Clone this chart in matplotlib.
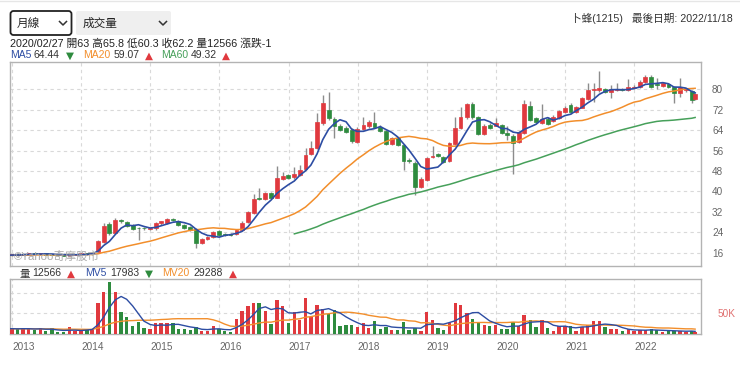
import numpy as np
import pandas as pd
import matplotlib
matplotlib.use('Agg')
import matplotlib.pyplot as plt
import matplotlib.dates as mdates
from matplotlib.patches import FancyBboxPatch

FONT = ['Liberation Sans', 'Noto Sans CJK TC', 'DejaVu Sans']
plt.rcParams['font.family'] = FONT

# ---------------- data (monthly, Feb 2012 .. Nov 2022) ----------------
open_ = [
    # 2012 Feb-Dec
    14.6, 14.8, 15.0, 15.2, 15.0, 14.6, 14.8, 15.0, 15.1, 15.0, 15.0,
    # 2013
    15.3, 15.1, 15.5, 15.8, 15.4, 15.7, 15.3, 15.2, 15.0, 14.9, 15.3, 15.5,
    # 2014
    15.6, 15.4, 16.4, 20.3, 27.1, 23.8, 28.9, 27.9, 26.9, 25.7, 25.6, 25.2,
    # 2015
    25.6, 27.5, 27.5, 29.0, 28.4, 26.9, 25.9, 25.3, 19.7, 21.4, 22.0, 24.6,
    # 2016
    23.5, 23.2, 23.3, 24.9, 27.9, 31.5, 37.4, 36.9, 39.3, 37.6, 44.8, 46.5,
    # 2017
    45.5, 46.5, 48.8, 54.6, 56.9, 66.7, 71.9, 68.4, 65.8, 65.0, 64.1, 59.5,
    # 2018
    64.5, 65.8, 67.0, 65.4, 63.7, 58.5, 60.8, 58.2, 52.2, 51.0, 41.9, 44.5,
    # 2019
    53.5, 54.6, 53.6, 51.9, 58.5, 64.8, 69.1, 74.4, 69.1, 62.5, 66.0, 65.8,
    # 2020
    66.0, 63.0, 61.9, 59.5, 63.0, 73.4, 68.6, 66.9, 68.3, 67.6, 68.9, 71.0,
    # 2021
    73.8, 71.1, 72.8, 76.3, 79.9, 79.7, 80.0, 78.8, 79.8, 80.0, 79.7, 80.5,
    # 2022 Jan-Nov
    80.8, 83.0, 85.0, 82.0, 81.4, 82.2, 80.8, 78.5, 79.6, 79.5, 76.1,
]
high = [
    15.0, 15.2, 15.4, 15.3, 15.1, 15.0, 15.2, 15.3, 15.2, 15.2, 15.6,
    15.6, 15.8, 16.0, 15.9, 15.9, 15.8, 15.6, 15.4, 15.2, 15.5, 15.6, 15.8,
    15.8, 16.2, 21.0, 27.5, 28.0, 29.6, 29.3, 28.5, 27.3, 26.2, 26.2, 25.8,
    28.2, 28.6, 29.5, 29.6, 28.9, 27.2, 26.3, 25.6, 21.8, 22.6, 24.6, 25.0,
    23.8, 23.6, 25.2, 28.4, 32.5, 38.9, 41.5, 39.8, 39.8, 50.0, 47.8, 47.0,
    49.5, 50.5, 56.9, 59.8, 70.6, 77.8, 79.1, 69.0, 66.5, 65.8, 64.8, 65.2,
    69.0, 68.0, 71.0, 66.0, 64.2, 61.2, 61.3, 58.6, 53.0, 52.0, 45.5, 53.5,
    57.8, 55.0, 54.0, 59.5, 69.0, 73.2, 74.8, 75.0, 69.6, 66.3, 66.8, 68.8,
    66.5, 65.8, 62.5, 63.8, 76.0, 75.5, 69.0, 74.1, 69.0, 69.8, 71.8, 73.5,
    74.5, 73.6, 77.0, 82.6, 82.5, 87.0, 80.5, 81.5, 82.5, 80.5, 84.0, 81.5,
    83.5, 85.7, 85.8, 84.5, 82.6, 82.6, 81.2, 84.3, 80.3, 79.8, 78.5,
]
low = [
    14.4, 14.6, 14.8, 14.8, 14.4, 14.5, 14.7, 14.9, 14.8, 14.8, 14.8,
    14.9, 15.0, 15.2, 15.2, 15.2, 15.0, 15.0, 14.8, 14.7, 14.8, 15.1, 15.3,
    15.2, 15.3, 16.2, 20.0, 23.0, 23.5, 27.5, 26.2, 25.0, 21.0, 25.0, 24.8,
    24.8, 27.0, 27.2, 28.3, 26.5, 25.3, 24.5, 17.7, 19.3, 21.1, 21.8, 22.6,
    22.6, 22.7, 23.0, 24.6, 27.6, 31.2, 36.5, 36.5, 37.3, 37.3, 44.3, 44.8,
    45.0, 46.0, 48.5, 54.2, 56.5, 66.0, 68.0, 61.1, 63.5, 62.8, 59.0, 59.0,
    64.0, 65.0, 65.0, 63.3, 58.0, 58.0, 57.8, 48.5, 51.0, 38.6, 41.5, 44.2,
    53.0, 53.3, 51.2, 51.5, 58.0, 64.3, 68.5, 68.5, 62.0, 62.0, 64.5, 65.5,
    62.5, 60.3, 46.7, 59.0, 62.5, 67.5, 66.8, 66.5, 66.0, 67.2, 68.5, 70.6,
    70.5, 70.8, 72.5, 76.0, 75.0, 79.0, 78.5, 76.5, 79.3, 79.3, 79.3, 80.0,
    80.5, 82.5, 80.5, 80.0, 80.8, 80.4, 74.5, 77.0, 79.0, 74.5, 75.8,
]
close = [
    14.8, 15.0, 15.2, 15.0, 14.6, 14.8, 15.0, 15.1, 15.0, 15.0, 15.3,
    15.1, 15.5, 15.8, 15.4, 15.7, 15.3, 15.2, 15.0, 14.9, 15.3, 15.5, 15.6,
    15.4, 16.0, 20.6, 26.6, 23.6, 28.8, 28.6, 26.6, 25.3, 25.5, 25.5, 25.5,
    27.8, 28.4, 29.1, 28.8, 26.9, 25.6, 24.9, 19.7, 21.4, 22.3, 24.2, 22.9,
    23.0, 23.0, 24.9, 27.8, 32.1, 36.9, 37.2, 39.3, 37.6, 45.1, 46.0, 45.1,
    46.7, 48.4, 54.3, 56.9, 67.3, 74.5, 68.7, 65.8, 64.1, 63.4, 59.8, 64.5,
    66.0, 67.3, 65.4, 63.8, 58.5, 60.8, 58.2, 51.9, 51.9, 41.8, 45.0, 53.2,
    54.0, 53.7, 51.7, 58.9, 64.8, 69.1, 74.1, 69.1, 62.5, 65.8, 65.0, 67.0,
    63.0, 62.2, 59.0, 63.2, 74.1, 68.0, 67.3, 68.5, 66.6, 69.3, 71.5, 72.8,
    71.0, 73.2, 76.7, 79.7, 80.1, 80.6, 78.8, 80.0, 80.0, 79.8, 81.0, 80.8,
    83.0, 85.0, 81.0, 81.8, 82.3, 80.8, 78.5, 80.8, 80.0, 75.8, 78.1,
]
volume_k = [  # thousands of lots
    13, 12, 14, 13, 11, 12, 13, 12, 14, 13, 12.1,
    11.3, 13.7, 13.7, 9.7, 13.7, 7.2, 13.7, 4.8, 4.0, 16.1, 8.1, 9.7,
    9.7, 11.3, 74, 100.6, 124.8, 102.2, 52.3, 40.3, 19.3, 29, 15.3, 11.3,
    27.4, 25.8, 25.8, 25.8, 12.1, 12.1, 9.7, 16.1, 7.2, 8.1, 19.3, 12.1,
    7.2, 4.8, 35.4, 55.5, 67.6, 74, 75.7, 55.5, 23.3, 82.1, 67.6, 27.4,
    52.3, 33.8, 87.7, 41.9, 70, 59.6, 47.5, 58, 20.1, 21.7, 21.7, 16.1,
    27.4, 15.3, 31.4, 12.1, 16.1, 9.7, 9.7, 28.2, 9.7, 15.3, 7.2, 52.3,
    33.8, 15.3, 9.7, 27.4, 74, 70, 49.9, 36.2, 29.8, 21.7, 20.1, 21.7,
    11.3, 12.6, 29.8, 20.1, 45.9, 33.8, 17.7, 33.8, 13.7, 7.2, 20.1, 20.1,
    20.1, 7.2, 17.7, 21.7, 32.2, 32.2, 16.1, 11.3, 11.3, 7.2, 12.1, 7.2,
    9.7, 9.7, 11.3, 9.7, 5.6, 7.2, 7.2, 8.1, 5.6, 7.2, 4.0,
]
years = list(range(2013, 2023))
price_ticks = [16, 24, 32, 40, 48, 56, 64, 72, 80]

# candle dates: last business day of each month, last one = 2022/11/18
try:
    dts = list(pd.date_range('2012-02-01', '2022-11-30', freq='BME'))
except Exception:
    dts = list(pd.date_range('2012-02-01', '2022-11-30', freq='BM'))
dts[-1] = pd.Timestamp('2022-11-18')
x = mdates.date2num(dts)

o = np.array(open_); h = np.array(high); l = np.array(low); c = np.array(close)
v = np.array(volume_k) * 1000

RED = '#e0393e'
GREEN = '#2e8b3e'
up = c >= o
col = np.where(up, RED, GREEN)

s = pd.Series(c)
ma5 = s.rolling(5).mean()
ma20 = s.rolling(20, min_periods=1).mean()
ma60 = s.rolling(60).mean()
sv = pd.Series(v)
mv5 = sv.rolling(5, min_periods=1).mean()
mv20 = sv.rolling(20, min_periods=1).mean()

C_MA5 = '#2d4da3'
C_MA20 = '#f28e2b'
C_MA60 = '#46a05a'

W, H = 740, 368
def fr(x0, y0, x1, y1):
    return [x0 / W, 1 - y1 / H, (x1 - x0) / W, (y1 - y0) / H]

fig = plt.figure(figsize=(7.4, 3.68), dpi=100)
fig.patch.set_facecolor('white')

xl = (mdates.date2num(pd.Timestamp('2012-12-21')), mdates.date2num(pd.Timestamp('2022-12-19')))
yr_x = [mdates.date2num(pd.Timestamp(f'{y}-01-01')) for y in years]
GRID = dict(color='#d9d9d9', lw=0.8, ls=(0, (3, 3)))

# ---------------- price panel ----------------
ax = fig.add_axes(fr(10, 62, 701, 266))
ax.vlines(x, l, h, color='#8c8c8c', lw=1, zorder=2)
ax.bar(x, np.maximum(np.abs(c - o), 0.35), bottom=np.minimum(o, c), width=20,
       color=col, edgecolor=col, lw=0.5, zorder=3)
ax.plot(x, ma60, color=C_MA60, lw=1.1, zorder=4)
ax.plot(x, ma20, color=C_MA20, lw=1.1, zorder=4)
ax.plot(x, ma5, color=C_MA5, lw=1.2, zorder=5)
ax.set_xlim(*xl)
ax.set_ylim(10.8, 90.7)
ax.set_yticks(price_ticks)
ax.set_xticks(yr_x)
ax.grid(True, **GRID)
ax.set_axisbelow(True)
ax.yaxis.tick_right()
ax.tick_params(axis='y', length=0, pad=8, labelsize=7.2, labelcolor='#666666')
ax.tick_params(axis='x', length=0, labelbottom=False)
for sp in ax.spines.values():
    sp.set_color('#b3b3b3'); sp.set_linewidth(1)
ax.text(0.006, 0.022, '©Yahoo奇摩股市', transform=ax.transAxes, fontsize=8.2,
        color='#ababab', va='bottom', ha='left', zorder=6)

# ---------------- volume panel ----------------
axv = fig.add_axes(fr(10, 279, 701, 334))
axv.bar(x, v, width=18, color=col, lw=0, zorder=3)
axv.plot(x, mv20, color=C_MA20, lw=1.0, zorder=4)
axv.plot(x, mv5, color=C_MA5, lw=1.0, zorder=5)
axv.set_xlim(*xl)
axv.set_ylim(0, 133000)
axv.set_yticks([50000, 100000])
axv.set_yticklabels(['50K', ''])
axv.yaxis.tick_right()
axv.tick_params(axis='y', length=0, pad=12, labelsize=7.2, labelcolor='#e07070')
axv.set_xticks(yr_x)
axv.set_xticklabels([str(y) for y in years])
for lb in axv.get_xticklabels():
    lb.set_ha('left')
axv.tick_params(axis='x', length=0, pad=6, labelsize=7.2, labelcolor='#666666')
axv.grid(True, **GRID)
axv.set_axisbelow(True)
for sp in axv.spines.values():
    sp.set_color('#b3b3b3'); sp.set_linewidth(1)

# ---------------- header (pixel overlay) ----------------
ov = fig.add_axes([0, 0, 1, 1])
ov.set_xlim(0, W); ov.set_ylim(H, 0); ov.axis('off')
ov.patch.set_alpha(0)
ov.plot([0, W], [0.8, 0.8], color='#e6e6e6', lw=1)

ov.add_patch(FancyBboxPatch((10.5, 11), 61, 24, boxstyle='round,pad=0,rounding_size=3',
                            fc='white', ec='#222222', lw=1.3))
ov.text(17, 23.5, '月線', fontsize=8.4, va='center', ha='left', color='#222222')
ov.plot([59.5, 63, 66.5], [21.5, 25, 21.5], color='#333333', lw=1.1)

ov.add_patch(FancyBboxPatch((76, 11), 95, 24, boxstyle='round,pad=0,rounding_size=2',
                            fc='#efefef', ec='none'))
ov.text(83, 23.5, '成交量', fontsize=8.4, va='center', ha='left', color='#222222')
ov.plot([159.5, 163, 166.5], [21.5, 25, 21.5], color='#333333', lw=1.1)

ov.text(733, 18, '卜蜂(1215)   最後日期: 2022/11/18', fontsize=7.7, va='center',
        ha='right', color='#333333')
ov.text(10, 44, '2020/02/27 開63 高65.8 低60.3 收62.2 量12566 漲跌-1', fontsize=7.75,
        va='center', ha='left', color='#222222')

DARK = '#333333'
TRI = ['DejaVu Sans']
ma_leg = [(10, 'MA5', C_MA5), (33.5, '64.44', DARK), (66, '▼', GREEN),
          (83, 'MA20', C_MA20), (113.5, '59.07', DARK), (145, '▲', RED),
          (161, 'MA60', C_MA60), (191, '49.32', DARK), (222, '▲', RED)]
for xx, t, cc in ma_leg:
    if t in '▲▼':
        ov.text(xx, 55.5, t, fontsize=7.5, va='center', ha='left', color=cc, family=TRI)
    else:
        ov.text(xx, 55.5, t, fontsize=7.5, va='center', ha='left', color=cc)

vol_leg = [(19, '量', DARK), (32.5, '12566', DARK), (67, '▲', RED),
           (85, 'MV5', C_MA5), (110.5, '17983', DARK), (145, '▼', GREEN),
           (162, 'MV20', C_MA20), (193.5, '29288', DARK), (229, '▲', RED)]
for xx, t, cc in vol_leg:
    if t in '▲▼':
        ov.text(xx, 273.5, t, fontsize=7.5, va='center', ha='left', color=cc, family=TRI)
    else:
        ov.text(xx, 273.5, t, fontsize=7.5, va='center', ha='left', color=cc)

fig.savefig('out.png', dpi=100, facecolor='white')
